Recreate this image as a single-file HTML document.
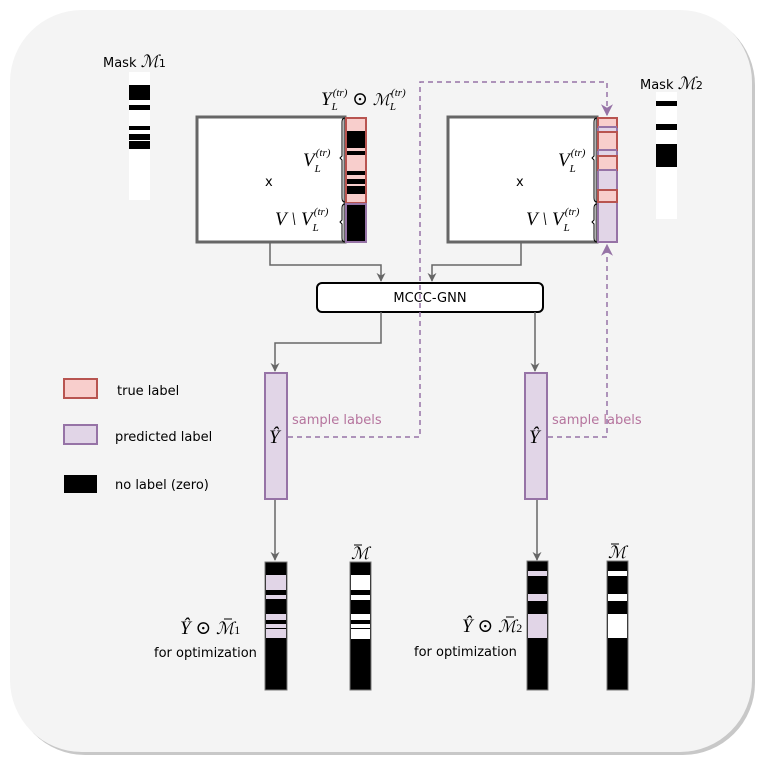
<!DOCTYPE html>
<html><head><meta charset="utf-8"><style>body{margin:0;background:#fff}svg{display:block}
.t{font-family:"DejaVu Sans",sans-serif;font-size:13px;fill:#000}
.m{font-family:"Liberation Serif","DejaVu Serif",serif;font-style:italic;font-size:19px;fill:#000}
.s{font-family:"Liberation Serif",serif;font-style:italic;font-size:11px}
</style></head><body>
<svg width="778" height="767" viewBox="0 0 778 767">
<defs><marker id="ag" viewBox="0 0 10 10" refX="9" refY="5" markerWidth="9" markerHeight="9" markerUnits="userSpaceOnUse" orient="auto"><path d="M0,0L10,5L0,10L3,5z" fill="#666"/></marker>
<marker id="ap" viewBox="0 0 10 10" refX="9" refY="5" markerWidth="12" markerHeight="12" markerUnits="userSpaceOnUse" orient="auto"><path d="M0,0L10,5L0,10L3,5z" fill="#9673a6"/></marker></defs>
<rect x="13" y="13" width="742" height="742" rx="72" fill="#c8c8c8"/>
<rect x="10" y="10" width="742" height="742" rx="72" fill="#f4f4f4"/>
<!-- mask M1 -->
<text x="103" y="67" class="t">Mask <tspan font-family="DejaVu Serif" font-style="italic" font-size="17">ℳ</tspan><tspan font-size="11">1</tspan></text>
<rect x="129" y="72" width="21" height="128" fill="#fff"/>
<g fill="#000"><rect x="129" y="85" width="21" height="15"/><rect x="129" y="105" width="21" height="5"/><rect x="129" y="126" width="21" height="4"/><rect x="129" y="134" width="21" height="6"/><rect x="129" y="141" width="21" height="8"/></g>
<!-- left box -->
<rect x="197" y="117" width="148" height="125" fill="#fff" stroke="#666" stroke-width="3"/>
<text x="265" y="186" class="t">x</text>
<rect x="346" y="118" width="20" height="85" fill="#f8cecc" stroke="#b85450" stroke-width="2"/>
<g fill="#000"><rect x="347" y="131" width="18" height="17"/><rect x="347" y="151" width="18" height="4"/><rect x="347" y="171" width="18" height="4"/><rect x="347" y="179" width="18" height="5"/><rect x="347" y="186" width="18" height="8"/></g>
<rect x="346" y="204" width="20" height="38" fill="#000" stroke="#9673a6" stroke-width="2"/>
<path d="M345,118 q-3,0 -3,4 v34 l-2,2 l2,2 v38 q0,4 3,4 M345,204 q-3,0 -3,4 v12 l-2,2 l2,2 v14 q0,4 3,4" fill="none" stroke="#000" stroke-width="1"/>
<text x="303" y="166" class="m">V<tspan class="s" dy="6">L</tspan><tspan class="s" dy="-16" dx="-5">(tr)</tspan></text>
<text x="275" y="225" class="m">V \ V<tspan class="s" dy="6">L</tspan><tspan class="s" dy="-16" dx="-5">(tr)</tspan></text>
<text x="321" y="105" class="m">Y<tspan class="s" dy="5">L</tspan><tspan class="s" dy="-14" dx="-5">(tr)</tspan><tspan dy="9" font-style="normal"> ⊙ </tspan><tspan font-family="DejaVu Serif" font-size="16">ℳ</tspan><tspan class="s" dy="5">L</tspan><tspan class="s" dy="-14" dx="-5">(tr)</tspan></text>
<!-- right box -->
<rect x="448" y="117" width="149" height="125" fill="#fff" stroke="#666" stroke-width="3"/>
<text x="516" y="186" class="t">x</text>
<g stroke-width="2">
<rect x="598" y="118" width="19" height="124" fill="#e1d5e7" stroke="#9673a6"/>
<rect x="598" y="118" width="19" height="9" fill="#f8cecc" stroke="#b85450"/>
<rect x="598" y="132" width="19" height="18" fill="#f8cecc" stroke="#b85450"/>
<rect x="598" y="156" width="19" height="14" fill="#f8cecc" stroke="#b85450"/>
<rect x="598" y="190" width="19" height="12" fill="#f8cecc" stroke="#b85450"/>
<line x1="598" y1="170" x2="617" y2="170" stroke="#9673a6"/><line x1="598" y1="127" x2="617" y2="127" stroke="#9673a6"/><line x1="598" y1="150" x2="617" y2="150" stroke="#9673a6"/></g>
<path d="M597,118 q-3,0 -3,4 v34 l-2,2 l2,2 v38 q0,4 3,4 M597,204 q-3,0 -3,4 v12 l-2,2 l2,2 v14 q0,4 3,4" fill="none" stroke="#000" stroke-width="1"/>
<text x="558" y="166" class="m">V<tspan class="s" dy="6">L</tspan><tspan class="s" dy="-16" dx="-5">(tr)</tspan></text>
<text x="526" y="225" class="m">V \ V<tspan class="s" dy="6">L</tspan><tspan class="s" dy="-16" dx="-5">(tr)</tspan></text>
<text x="640" y="89" class="t">Mask <tspan font-family="DejaVu Serif" font-style="italic" font-size="17">ℳ</tspan><tspan font-size="11">2</tspan></text>
<rect x="656" y="92" width="21" height="127" fill="#fff"/>
<g fill="#000"><rect x="656" y="101" width="21" height="5"/><rect x="656" y="124" width="21" height="6"/><rect x="656" y="144" width="21" height="23"/></g>
<!-- MCCC -->
<rect x="317" y="283" width="226" height="29" rx="5" fill="#fff" stroke="#000" stroke-width="2"/>
<text x="430" y="302" class="t" text-anchor="middle">MCCC-GNN</text>
<g fill="none" stroke="#666" stroke-width="1.5">
<path d="M270,243 V265 H381 V281" marker-end="url(#ag)"/>
<path d="M521,243 V265 H432 V281" marker-end="url(#ag)"/>
<path d="M381,312 V343 H275 V371" marker-end="url(#ag)"/>
<path d="M535,312 V371" marker-end="url(#ag)"/>
<path d="M275,500 V560" marker-end="url(#ag)"/>
<path d="M537,500 V560" marker-end="url(#ag)"/>
</g>
<g fill="none" stroke="#9673a6" stroke-width="1.5" stroke-dasharray="5,4">
<path d="M288,437 H420 V82 H607 V115" marker-end="url(#ap)"/>
<path d="M548,437 H607 V245" marker-end="url(#ap)"/>
</g>
<rect x="265" y="373" width="22" height="126" fill="#e1d5e7" stroke="#9673a6" stroke-width="2"/>
<rect x="525" y="373" width="22" height="126" fill="#e1d5e7" stroke="#9673a6" stroke-width="2"/>
<text x="269" y="443" class="m">Ŷ</text><text x="529" y="443" class="m">Ŷ</text>
<text x="292" y="424" class="t" style="fill:#b5739d">sample labels</text>
<text x="552" y="424" class="t" style="fill:#b5739d">sample labels</text>
<!-- legend -->
<rect x="64" y="379" width="33" height="19" fill="#f8cecc" stroke="#b85450" stroke-width="2"/>
<text x="117" y="395" class="t">true label</text>
<rect x="64" y="425" width="33" height="19" fill="#e1d5e7" stroke="#9673a6" stroke-width="2"/>
<text x="115" y="441" class="t">predicted label</text>
<rect x="64" y="475" width="33" height="18" fill="#000"/>
<text x="115" y="489" class="t">no label (zero)</text>
<!-- bottom columns -->
<g>
<rect x="265" y="562" width="22" height="128" fill="#000" stroke="#777"/>
<g fill="#e1d5e7"><rect x="266" y="575" width="20" height="15"/><rect x="266" y="595" width="20" height="4"/><rect x="266" y="614" width="20" height="6"/><rect x="266" y="624" width="20" height="4"/><rect x="266" y="629" width="20" height="9"/></g>
<rect x="350" y="562" width="21" height="128" fill="#000" stroke="#777"/>
<g fill="#fff"><rect x="351" y="575" width="19" height="15"/><rect x="351" y="595" width="19" height="5"/><rect x="351" y="614" width="19" height="6"/><rect x="351" y="624" width="19" height="4"/><rect x="351" y="629" width="19" height="10"/></g>
<rect x="527" y="561" width="21" height="129" fill="#000" stroke="#777"/>
<g fill="#e1d5e7"><rect x="528" y="571" width="19" height="5"/><rect x="528" y="594" width="19" height="7"/><rect x="528" y="614" width="19" height="24"/></g>
<rect x="607" y="561" width="21" height="129" fill="#000" stroke="#777"/>
<g fill="#fff"><rect x="608" y="571" width="19" height="5"/><rect x="608" y="594" width="19" height="7"/><rect x="608" y="614" width="19" height="24"/></g>
</g>
<g font-family="DejaVu Serif" font-style="italic" font-size="17">
<text x="351" y="559">ℳ</text><text x="608" y="558">ℳ</text>
<line x1="354" y1="545" x2="362" y2="545" stroke="#000"/><line x1="611" y1="544" x2="619" y2="544" stroke="#000"/>
</g>
<text x="180" y="634" class="m">Ŷ <tspan font-style="normal">⊙</tspan> <tspan font-family="DejaVu Serif" font-size="17">ℳ</tspan><tspan font-size="12" font-style="normal">1</tspan></text>
<line x1="224" y1="619" x2="232" y2="619" stroke="#000"/>
<text x="154" y="657" class="t">for optimization</text>
<text x="462" y="632" class="m">Ŷ <tspan font-style="normal">⊙</tspan> <tspan font-family="DejaVu Serif" font-size="17">ℳ</tspan><tspan font-size="12" font-style="normal">2</tspan></text>
<line x1="506" y1="617" x2="514" y2="617" stroke="#000"/>
<text x="414" y="656" class="t">for optimization</text>
</svg>
</body></html>
